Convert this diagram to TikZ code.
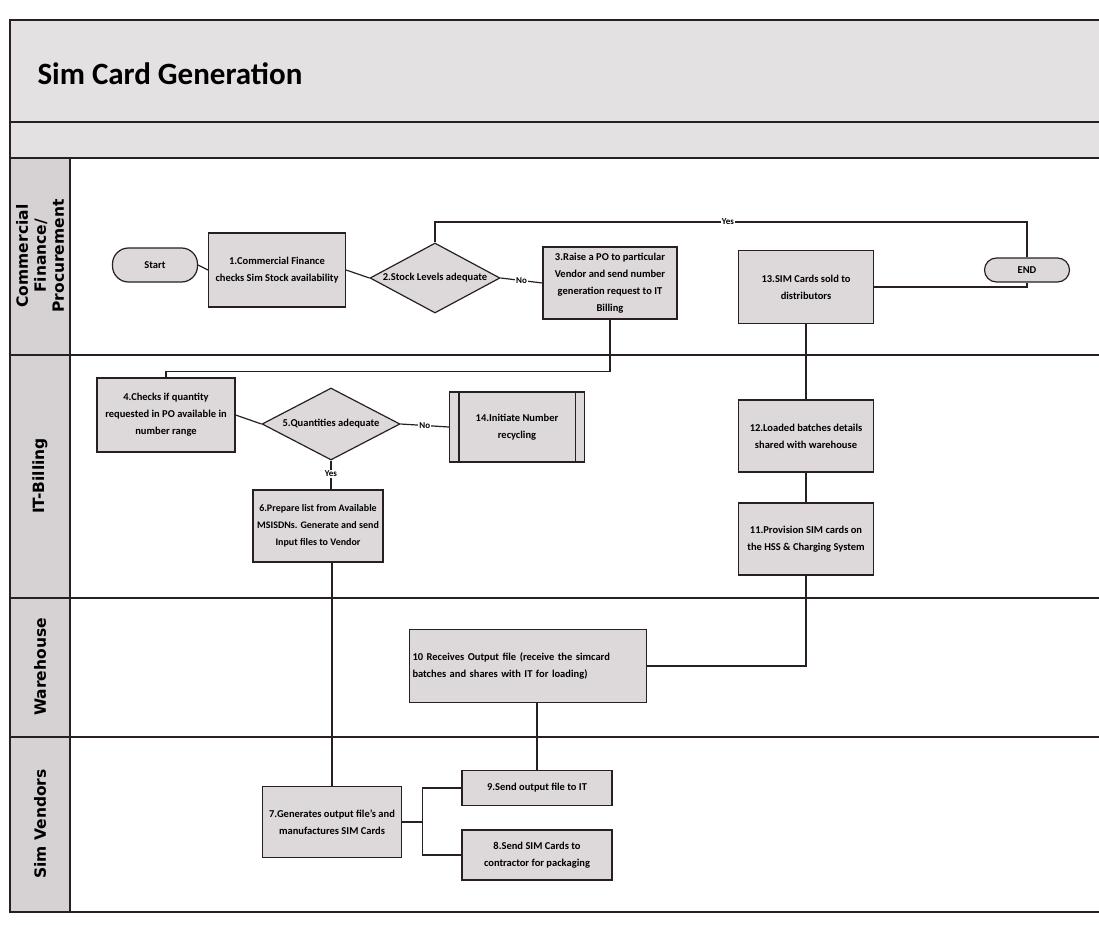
\documentclass[tikz,border=0pt]{standalone}
\usepackage{fontspec}
\setmainfont{Carlito}
\newfontfamily\lanefont{DejaVu Sans}
\usetikzlibrary{shapes.geometric,calc}
\definecolor{boxfill}{RGB}{221,216,217}
\definecolor{bandfill}{RGB}{228,225,226}
\definecolor{lanefill}{RGB}{214,209,211}
\definecolor{linec}{RGB}{40,32,32}
\tikzset{
  proc/.style={draw=linec, line width=1.2pt, fill=boxfill, align=center, inner sep=2pt,
    font=\fontsize{10.5}{17}\selectfont\bfseries},
  term/.style={proc, rounded corners=12pt},
  decis/.style={diamond, draw=linec, line width=1.2pt, fill=boxfill, inner sep=0pt, aspect=1.9,
    font=\fontsize{10.5}{17}\selectfont\bfseries},
  conn/.style={draw=linec, line width=1.2pt},
  lbl/.style={fill=white, inner sep=1pt, font=\fontsize{9}{10}\selectfont\bfseries},
  lanelbl/.style={rotate=90, align=center, font=\lanefont\fontsize{15.5}{18}\selectfont\bfseries},
  frame/.style={draw=linec, line width=1.4pt}
}
\begin{document}
\begin{tikzpicture}[x=1pt,y=-1pt]
\useasboundingbox (0,0) rectangle (1099,925);
% bands
\fill[bandfill] (10,20) rectangle (1099,158);
\fill[lanefill] (10,158) rectangle (70,912);
\draw[frame] (1099,20) -- (10,20) -- (10,912) -- (1099,912);
\draw[frame] (10,122) -- (1099,122);
\draw[frame] (10,158) -- (1099,158);
\draw[frame] (70,158) -- (70,912);
\draw[frame] (10,355) -- (1099,355);
\draw[frame] (10,598) -- (1099,598);
\draw[frame] (10,737) -- (1099,737);
\node[anchor=west, font=\fontsize{31}{34}\selectfont\bfseries] (title) at (34,74) {Sim Card Generation};
% lane labels
\node[lanelbl] (l1) at (40,256) {Commercial\\Finance/\\Procurement};
\node[lanelbl] (l2) at (40,476) {IT-Billing};
\node[lanelbl] (l3) at (40,667) {Warehouse};
\node[lanelbl] (l4) at (40,824) {Sim Vendors};
% nodes
\node[term, rounded corners=16pt, minimum width=85pt, minimum height=34pt] (start) at (155,265) {Start};
\node[proc, minimum width=137pt, minimum height=74pt] (b1) at (277,270) {1.Commercial Finance\\checks Sim Stock availability};
\node[decis, minimum width=130pt, minimum height=70pt] (d2) at (435,278) {\makebox[0pt]{2.Stock Levels adequate}};
\node[proc, minimum width=134pt, minimum height=72pt] (b3) at (610,283) {3.Raise a PO to particular\\Vendor and send number\\generation request to IT\\Billing};
\node[proc, minimum width=135pt, minimum height=73pt] (b13) at (806,287) {13.SIM Cards sold to\\distributors};
\node[term, minimum width=85pt, minimum height=24pt] (end) at (1027,270) {END};
\node[proc, minimum width=138pt, minimum height=74pt] (b4) at (166,415) {4.Checks if quantity\\requested in PO available in\\number range};
\node[decis, minimum width=138pt, minimum height=72pt] (d5) at (331,424) {\makebox[0pt]{5.Quantities adequate}};
\node[proc, minimum width=135pt, minimum height=70pt] (b14) at (517,427) {14.Initiate Number\\recycling};
\draw[conn] ($(b14.north west)+(10,0)$) -- ($(b14.south west)+(10,0)$);
\draw[conn] ($(b14.north east)+(-10,0)$) -- ($(b14.south east)+(-10,0)$);
\node[proc, minimum width=130pt, minimum height=72pt, inner sep=1pt, font=\fontsize{10}{17}\selectfont\bfseries] (b6) at (318,526) {6.Prepare list from Available\\MSISDNs. Generate and send\\Input files to Vendor};
\node[proc, minimum width=135pt, minimum height=72pt] (b12) at (806,436) {12.Loaded batches details\\shared with warehouse};
\node[proc, minimum width=135pt, minimum height=72pt] (b11) at (806,539) {11.Provision SIM cards on\\the HSS \& Charging System};
\node[proc, minimum width=237pt, minimum height=73pt, text width=231pt, align=left] (b10) at (528,666) {10 Receives Output file (receive the simcard\\batches and shares with IT for loading)};
\node[proc, minimum width=139pt, minimum height=71pt] (b7) at (332,822) {7.Generates output file's and\\manufactures SIM Cards};
\node[proc, minimum width=150pt, minimum height=35pt] (b9) at (537,788) {9.Send output file to IT};
\node[proc, minimum width=150pt, minimum height=50pt] (b8) at (537,855) {8.Send SIM Cards to\\contractor for packaging};
% connectors
\draw[conn] (start.east) -- (b1.west);
\draw[conn] (b1.east) -- (d2.west);
\draw[conn] (d2.east) -- (b3.west);
\node[lbl] (lno1) at ($(d2.east)!0.5!(b3.west)$) {No};
\coordinate (yl) at (728,222);
\draw[conn] (d2.north) |- (yl) -| (end.north);
\node[lbl] (lyes1) at (yl) {Yes};
\draw[conn] (b13.east) -| (end.south);
\draw[conn] (b3.south) -- ++(0,52) -| (b4.north);
\draw[conn] (b4.east) -- (d5.west);
\draw[conn] (d5.east) -- (b14.west);
\node[lbl] (lno2) at ($(d5.east)!0.5!(b14.west)$) {No};
\draw[conn] (d5.south) -- (d5.south |- b6.north);
\node[lbl] (lyes2) at ($(d5.south)!0.45!(d5.south |- b6.north)$) {Yes};
\draw[conn] (b7.north) -- (b7.north |- b6.south);
\coordinate (br) at ($(b7.east)+(20,0)$);
\draw[conn] (b7.east) -- (br);
\draw[conn] (br) |- (b9.west);
\draw[conn] (br) |- (b8.west);
\draw[conn] (b9.north) -- (b9.north |- b10.south);
\draw[conn] (b10.east) -| (b11.south);
\draw[conn] (b11.north) -- (b12.south);
\draw[conn] (b12.north) -- (b13.south);
\end{tikzpicture}
\end{document}
